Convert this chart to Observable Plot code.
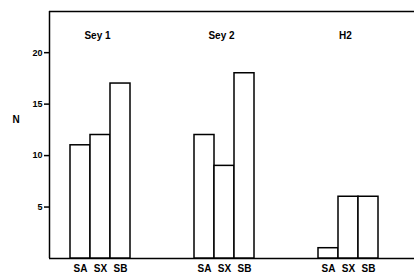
<!DOCTYPE html>
<html>
<head>
<meta charset="utf-8">
<script src="https://cdn.jsdelivr.net/npm/d3@7"></script>
<script src="https://cdn.jsdelivr.net/npm/@observablehq/plot@0.6"></script>
<style>
  html, body { margin: 0; padding: 0; background: #fff; overflow: hidden; }
  #chart svg { display: block; }
</style>
</head>
<body>
<div id="chart"></div>
<script>
const groups = ["Sey 1", "Sey 2", "H2"];
const classes = ["SA", "SX", "SB"];
const sey1 = [11, 12, 17];
const sey2 = [12, 9, 18];
const h2 = [1, 6, 6];
const yTicks = [5, 10, 15, 20];
const yMax = 24;

const series = [sey1, sey2, h2];
const table = [];
groups.forEach((g, gi) => {
  classes.forEach((c, ci) => {
    table.push({group: g, cls: c, n: series[gi][ci]});
  });
});

const chart = Plot.plot({
  width: 414,
  height: 273,
  marginLeft: 49,
  marginTop: 11,
  marginBottom: 15,
  marginRight: -7,
  style: {
    fontFamily: "'Liberation Sans', Arial, sans-serif",
    fontWeight: "bold",
    fontSize: "10px",
    color: "black",
    background: "white"
  },
  fx: {domain: groups, padding: 0, axis: null},
  x: {domain: classes, paddingInner: 0, paddingOuter: 1.5, align: 1 / 3, axis: null},
  y: {domain: [0, yMax], axis: null},
  marks: [
    Plot.ruleY([yMax], {stroke: "black", strokeWidth: 1.5}),
    Plot.ruleY([0], {stroke: "black", strokeWidth: 1.5}),
    Plot.ruleX([groups[0]], {fx: d => d, x: () => classes[0], dx: -31, y1: 0, y2: yMax, stroke: "black", strokeWidth: 1.5}),
    Plot.barY(table, {fx: "group", x: "cls", y: "n", fill: "white", stroke: "black", strokeWidth: 1.5}),
    Plot.axisX({tickSize: 0, tickPadding: 6, fontSize: 10, label: null}),
    Plot.axisY({ticks: yTicks, tickSize: 5, tickPadding: 2, strokeWidth: 1.5, label: null, fontSize: 9}),
    Plot.text(groups, {fx: d => d, x: () => "SX", text: d => d, frameAnchor: "top", dy: 20, dx: -3, fontSize: 10}),
    Plot.text(["N"], {facet: "super", text: d => d, frameAnchor: "left", dx: -37, dy: -15, fontSize: 10})
  ]
});
document.getElementById("chart").appendChild(chart);
</script>
</body>
</html>
